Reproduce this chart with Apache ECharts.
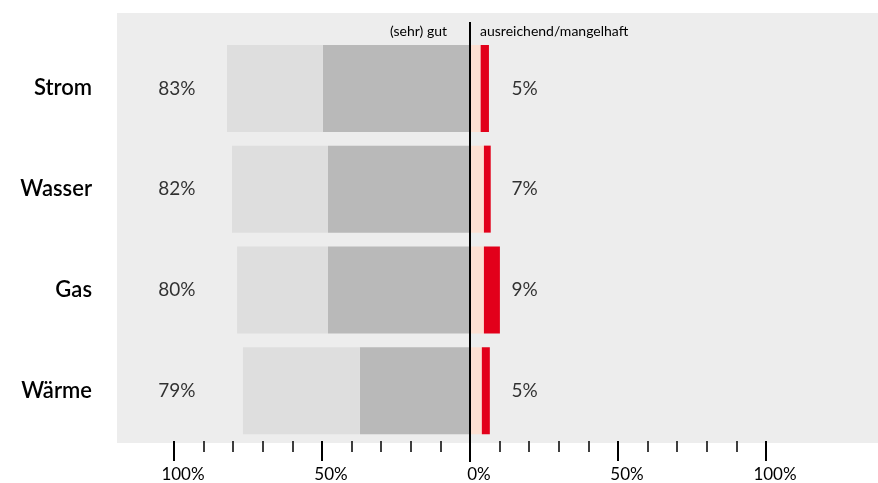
<!DOCTYPE html>
<html>
<head>
<meta charset="utf-8">
<script src="https://cdn.jsdelivr.net/npm/echarts@6/dist/echarts.min.js"></script>
<style>
  html, body { margin: 0; padding: 0; background: #fff; }
  #chart { width: 878px; height: 483px; }
</style>
</head>
<body>
<div id="chart"></div>
<script>
const categories = ['Strom', 'Wasser', 'Gas', 'Wärme'];
// (sehr) gut side, drawn to the left
const sehrGut = [49.7, 48.0, 48.0, 37.2];
const gut = [32.4, 32.4, 30.7, 39.5];
// ausreichend / mangelhaft side, drawn to the right
const ausreichend = [3.6, 4.7, 4.7, 4.0];
const mangelhaft = [2.8, 2.3, 5.4, 2.7];
// printed labels
const leftLabels = ['83%', '82%', '80%', '79%'];
const rightLabels = ['5%', '7%', '9%', '5%'];
const tickValues = [-100, -50, 0, 50, 100];

const FONT = 'Lato';
const TXT = '#000';

const chart = echarts.init(document.getElementById('chart'));

const option = {
    animation: false,
    textStyle: { fontFamily: FONT },
    grid: { left: 174, right: 112, top: 38, bottom: 41 },
    xAxis: {
        type: 'value',
        min: tickValues[0],
        max: tickValues[tickValues.length - 1],
        interval: 50,
        axisLine: { show: false },
        splitLine: { show: false },
        axisTick: { show: true, length: 20, lineStyle: { color: TXT, width: 2 } },
        minorTick: { show: true, splitNumber: 5, length: 11, lineStyle: { color: TXT, width: 1.5 } },
        axisLabel: {
            margin: 25,
            fontSize: 17,
            color: TXT,
            padding: [0, 0, 0, 18],
            formatter: v => Math.abs(v) + '%'
        }
    },
    yAxis: {
        type: 'category',
        inverse: true,
        data: categories,
        axisLine: { show: false },
        axisTick: { show: false },
        axisLabel: { margin: 82, fontSize: 22, color: TXT, fontWeight: 600 }
    },
    graphic: [
        { type: 'rect', z: -10, shape: { x: 117, y: 13, width: 761, height: 430 }, style: { fill: '#ededed' } },
        { type: 'text', x: 447, y: 31, style: { text: '(sehr) gut', fill: TXT, font: '14px ' + FONT, textAlign: 'right', textVerticalAlign: 'middle' } },
        { type: 'text', x: 480, y: 31, style: { text: 'ausreichend/mangelhaft', fill: TXT, font: '14px ' + FONT, textAlign: 'left', textVerticalAlign: 'middle' } }
    ],
    series: [
        { name: 'sehr gut', type: 'bar', stack: 'all', barWidth: 87, data: sehrGut.map(v => -v), itemStyle: { color: '#b9b9b9' } },
        { name: 'gut', type: 'bar', stack: 'all', barWidth: 87, data: gut.map(v => -v), itemStyle: { color: '#dedede' } },
        { name: 'ausreichend', type: 'bar', stack: 'all', barWidth: 87, data: ausreichend, itemStyle: { color: '#fde0d3' } },
        { name: 'mangelhaft', type: 'bar', stack: 'all', barWidth: 87, data: mangelhaft, itemStyle: { color: '#e2001a' } },
        {
            type: 'scatter', symbolSize: 0, z: 5,
            data: categories.map(c => [-99, c]),
            label: { show: true, position: 'inside', fontSize: 19, color: TXT, formatter: p => leftLabels[p.dataIndex] }
        },
        {
            type: 'scatter', symbolSize: 0, z: 5,
            data: categories.map(c => [14, c]),
            label: { show: true, position: 'right', distance: 0, fontSize: 19, color: TXT, formatter: p => rightLabels[p.dataIndex] }
        }
    ]
};

chart.setOption(option);

// zero line, reaching above the plot into the header
const x0 = chart.convertToPixel({ xAxisIndex: 0 }, 0);
chart.setOption({
    graphic: [
        option.graphic[0], option.graphic[1], option.graphic[2],
        { type: 'line', z: 10, shape: { x1: x0, y1: 22, x2: x0, y2: 462 }, style: { stroke: TXT, lineWidth: 2 } }
    ]
});
</script>
</body>
</html>
